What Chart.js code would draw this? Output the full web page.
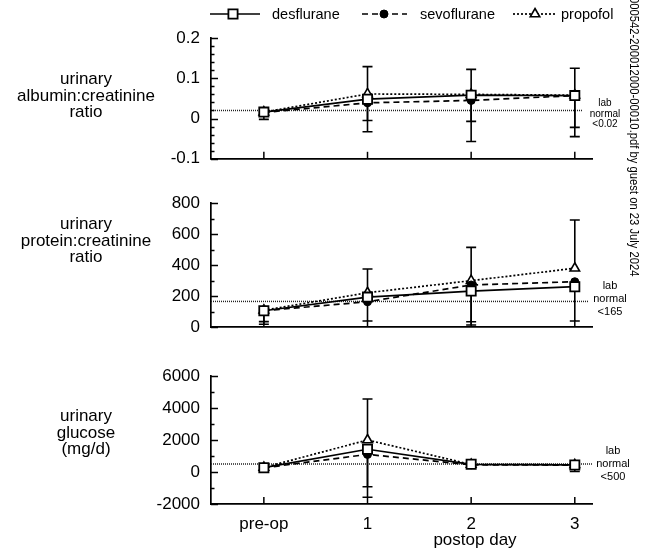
<!DOCTYPE html>
<html><head><meta charset="utf-8">
<script src="https://cdn.jsdelivr.net/npm/chart.js@4.4.1/dist/chart.umd.min.js"></script>
<style>
html,body{margin:0;padding:0;background:#fff;}
body{width:646px;height:550px;position:relative;overflow:hidden;font-family:"Liberation Sans",Arial,Helvetica,sans-serif;color:#000;}
canvas{position:absolute;left:0;}
.t{position:absolute;text-align:center;white-space:nowrap;}
.ttl{font-size:17px;line-height:16.5px;width:180px;left:-4px;}
.lab{font-size:11px;line-height:13px;width:50px;}
.wm{position:absolute;left:640px;top:-3px;transform-origin:0 0;transform:rotate(90deg) scaleX(0.9);font-size:12.5px;line-height:13px;white-space:nowrap;}
</style></head><body>
<canvas id="c1" width="646" height="180" style="top:0"></canvas>
<canvas id="c2" width="646" height="170" style="top:180px"></canvas>
<canvas id="c3" width="646" height="200" style="top:350px"></canvas>

<div class="t ttl" style="top:71px">urinary<br>albumin:creatinine<br>ratio</div>
<div class="t ttl" style="top:216px">urinary<br>protein:creatinine<br>ratio</div>
<div class="t ttl" style="top:408px">urinary<br>glucose<br>(mg/d)</div>

<div class="t lab" style="left:580px;top:98px;font-size:10px;line-height:10.5px">lab<br>normal<br>&lt;0.02</div>
<div class="t lab" style="left:585px;top:279px">lab<br>normal<br>&lt;165</div>
<div class="t lab" style="left:588px;top:444px">lab<br>normal<br>&lt;500</div>

<div class="t" style="left:415px;top:530px;width:120px;font-size:17px;line-height:20px">postop day</div>
<div class="wm">000542-200012000-00010.pdf by guest on 23 July 2024</div>

<script>
// ---------- data ----------
const categories = ['pre-op', '1', '2', '3'];
const days = [0, 1, 2, 3];
const seriesNames = ['desflurane', 'sevoflurane', 'propofol'];

// urinary albumin:creatinine ratio
const albDes  = [0.016, 0.048, 0.058, 0.057];
const albSevo = [0.015, 0.039, 0.045, 0.057];
const albProp = [0.016, 0.061, 0.060, 0.058];
const albDesLow   = [-0.002, -0.033, -0.057, -0.045];
const albPropLow  = [null, -0.005, -0.007, -0.022];
const albPropHigh = [null, 0.129, 0.122, 0.125];
const albTicks = [-0.1, 0, 0.1, 0.2];
const albNormal = 0.02;

// urinary protein:creatinine ratio
const protDes  = [105, 193, 232, 260];
const protSevo = [105, 163, 271, 292];
const protProp = [108, 221, 299, 379];
const protDesLow   = [35, 39, 34, 39];
const protSevoLow  = [18, null, 13, null];
const protPropHigh = [null, 374, 514, 690];
const protTicks = [0, 200, 400, 600, 800];
const protNormal = 165;

// urinary glucose (mg/d)
const gluDes  = [270, 1420, 480, 440];
const gluSevo = [260, 1100, 450, 430];
const gluProp = [280, 2000, 470, 450];
const gluDesLow   = [null, -1580, null, 30];
const gluSevoLow  = [null, -920, null, null];
const gluPropHigh = [null, 4560, null, null];
const gluTicks = [-2000, 0, 2000, 4000, 6000];
const gluNormal = 500;

// ---------- rendering ----------
const FONT = '"Liberation Sans", Arial, Helvetica, sans-serif';
const styles = [
  {borderColor:'#000', borderWidth:1.7, borderDash:[], pointStyle:'rect', pointRadius:6.5,
   pointBackgroundColor:'#fff', pointBorderColor:'#000', pointBorderWidth:1.8},
  {borderColor:'#000', borderWidth:1.7, borderDash:[6,4], pointStyle:'circle', pointRadius:4,
   pointBackgroundColor:'#000', pointBorderColor:'#000', pointBorderWidth:1},
  {borderColor:'#000', borderWidth:1.7, borderDash:[2,2], pointStyle:'triangle', pointRadius:5.5,
   pointBackgroundColor:'#fff', pointBorderColor:'#000', pointBorderWidth:1.6}
];

function buildTicks(majors, step){
  const lo = majors[0], hi = majors[majors.length-1];
  const n = Math.round((hi-lo)/step), out = [];
  for (let i=0;i<=n;i++) out.push(+(lo+i*step).toFixed(6));
  return out;
}

const axisTicks = {
  id:'axisTicks',
  afterDraw(chart){
    const {ctx, scales:{x,y}, chartArea:a} = chart;
    ctx.save(); ctx.strokeStyle='#000'; ctx.lineWidth=1.5; ctx.setLineDash([]);
    y.ticks.forEach(t=>{
      const py = Math.round(y.getPixelForValue(t.value))+0.5;
      const len = t.label !== '' ? 7 : 3.5;
      ctx.beginPath(); ctx.moveTo(a.left, py); ctx.lineTo(a.left+len, py); ctx.stroke();
    });
    x.ticks.forEach(t=>{
      const px = x.getPixelForValue(t.value);
      ctx.beginPath(); ctx.moveTo(px, a.bottom); ctx.lineTo(px, a.bottom-7); ctx.stroke();
    });
    ctx.restore();
  }
};

const extras = {
  id:'extras',
  beforeDatasetsDraw(chart, args, opts){
    const {ctx, scales:{x,y}, chartArea:a} = chart;
    ctx.save();
    const ly = y.getPixelForValue(opts.normal);
    ctx.strokeStyle='#222'; ctx.lineWidth=1.5; ctx.setLineDash([1,1]);
    ctx.beginPath(); ctx.moveTo(a.left, ly); ctx.lineTo(a.right - opts.lineCut, ly); ctx.stroke();
    ctx.setLineDash([]); ctx.strokeStyle='#000'; ctx.lineWidth=1.6;
    opts.bars.forEach(b=>{
      const vals = opts.series[b.s];
      b.ends.forEach((e,i)=>{
        if (e === null) return;
        const px = x.getPixelForValue(days[i]);
        const p0 = y.getPixelForValue(vals[i]), p1 = y.getPixelForValue(e);
        ctx.beginPath(); ctx.moveTo(px,p0); ctx.lineTo(px,p1);
        ctx.moveTo(px-5,p1); ctx.lineTo(px+5,p1); ctx.stroke();
      });
    });
    ctx.restore();
  }
};

function drawMarker(ctx, st, x, y){
  ctx.save();
  ctx.setLineDash([]);
  ctx.fillStyle = st.pointBackgroundColor; ctx.strokeStyle='#000'; ctx.lineWidth = st.pointBorderWidth;
  Chart.helpers.drawPoint(ctx, {pointStyle:st.pointStyle, radius:st.pointRadius, borderWidth:st.pointBorderWidth, rotation:0}, x, y);
  ctx.restore();
}

const legendPlugin = {
  id:'customLegend',
  afterDraw(chart){
    if (chart.canvas.id !== 'c1') return;
    const ctx = chart.ctx, yy = 14;
    const items = [
      {x0:210, x1:260, mx:233, tx:272},
      {x0:362, x1:407, mx:384, tx:420},
      {x0:513, x1:556, mx:535, tx:561}
    ];
    ctx.save();
    items.forEach((it,k)=>{
      const st = styles[k];
      ctx.strokeStyle='#000'; ctx.lineWidth=st.borderWidth; ctx.setLineDash(st.borderDash);
      ctx.beginPath(); ctx.moveTo(it.x0,yy); ctx.lineTo(it.x1,yy); ctx.stroke();
      drawMarker(ctx, st, it.mx, yy);
      ctx.fillStyle='#000';
      ctx.font = '14.5px ' + FONT; ctx.textBaseline='middle'; ctx.textAlign='left';
      ctx.fillText(seriesNames[k], it.tx, yy+1);
    });
    ctx.restore();
  }
};

function makePanel(id, cfg){
  const yAll = buildTicks(cfg.majors, cfg.minor);
  const datasets = cfg.series.map((vals,k)=>Object.assign({
    label: seriesNames[k],
    data: vals.map((v,i)=>({x:days[i], y:v})),
    fill:false, tension:0
  }, styles[k]));
  return new Chart(document.getElementById(id), {
    type:'line',
    data:{datasets},
    options:{
      responsive:false, animation:false, devicePixelRatio:1,
      layout:{padding:{left:0, right:54, top:cfg.padTop, bottom:cfg.padBottom}},
      plugins:{legend:{display:false}, tooltip:{enabled:false},
               extras:{normal:cfg.normal, series:cfg.series, bars:cfg.bars, lineCut:cfg.lineCut}},
      scales:{
        x:{type:'linear', min:-0.51, max:3.166,
           afterBuildTicks:s=>{ s.ticks = days.map(v=>({value:v})); },
           afterFit:s=>{ s.height = cfg.xHeight; },
           grid:{display:false, drawTicks:false},
           border:{display:true, color:'#000', width:1.7},
           ticks:{display:cfg.showX, autoSkip:false, maxRotation:0, padding:10, color:'#000',
                  font:{family:FONT, size:17}, callback:v=>categories[Math.round(v)]}},
        y:{type:'linear', min:cfg.majors[0], max:cfg.majors[cfg.majors.length-1],
           afterBuildTicks:s=>{ s.ticks = yAll.map(v=>({value:v})); },
           afterFit:s=>{ s.width = 211; },
           grid:{display:false, drawTicks:false},
           border:{display:true, color:'#000', width:1.7},
           ticks:{autoSkip:false, padding:11, color:'#000', font:{family:FONT, size:17},
                  callback:v=>{ const m = cfg.majors.find(q=>Math.abs(q-v)<cfg.minor/10); return m===undefined?'':String(m); }}}
      }
    },
    plugins:[extras, axisTicks, legendPlugin]
  });
}

makePanel('c1', {series:[albDes, albSevo, albProp], majors:albTicks, minor:0.02, normal:albNormal, lineCut:10,
  bars:[{s:2, ends:albPropHigh},{s:2, ends:albPropLow},{s:0, ends:albDesLow}],
  padTop:38, padBottom:15, xHeight:0, showX:false});
makePanel('c2', {series:[protDes, protSevo, protProp], majors:protTicks, minor:100, normal:protNormal, lineCut:4,
  bars:[{s:2, ends:protPropHigh},{s:0, ends:protDesLow},{s:1, ends:protSevoLow}],
  padTop:23, padBottom:23, xHeight:0, showX:false});
makePanel('c3', {series:[gluDes, gluSevo, gluProp], majors:gluTicks, minor:1000, normal:gluNormal, lineCut:0,
  bars:[{s:2, ends:gluPropHigh},{s:1, ends:gluSevoLow},{s:0, ends:gluDesLow}],
  padTop:26, padBottom:0, xHeight:46, showX:true});
</script>
</body></html>
